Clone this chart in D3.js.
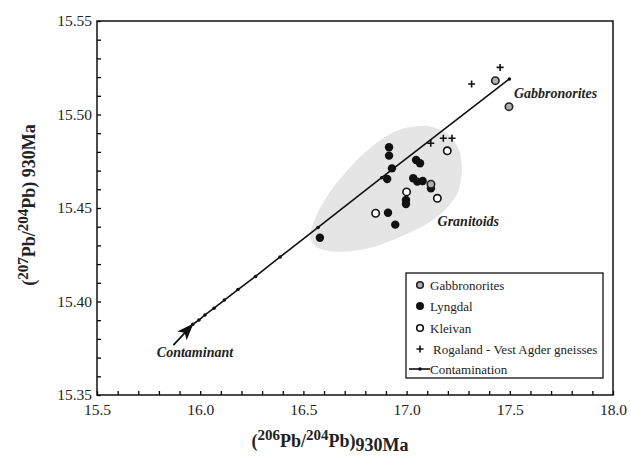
<!DOCTYPE html>
<html>
<head>
<meta charset="utf-8">
<script src="https://d3js.org/d3.v7.min.js"></script>
<style>
  body { margin: 0; background: #fff; }
  svg { font-family: "Liberation Serif", "Times New Roman", serif; }
</style>
</head>
<body>
<div id="chart"></div>
<script>
// data (206Pb/204Pb , 207Pb/204Pb at 930 Ma)
var gabbroX = [17.118, 17.430, 17.496];
var gabbroY = [15.4627, 15.5181, 15.5042];

var lyngdalX = [16.915, 16.915, 16.929, 16.906, 16.910, 16.945, 16.580, 17.046, 17.065, 17.032, 17.052, 17.078, 17.118, 16.997, 16.997];
var lyngdalY = [15.4825, 15.4780, 15.4712, 15.4655, 15.4475, 15.4411, 15.4341, 15.4757, 15.4739, 15.4659, 15.4641, 15.4644, 15.4605, 15.4543, 15.4521];

var kleivanX = [16.850, 17.000, 17.149, 17.197];
var kleivanY = [15.4472, 15.4586, 15.4552, 15.4806];

var rogalandX = [17.453, 17.315, 17.117, 17.178, 17.220];
var rogalandY = [15.5252, 15.5163, 15.4846, 15.4873, 15.4873];

// contamination (mixing) curve with its step marks
var mixX = [15.964, 15.994, 16.023, 16.067, 16.117, 16.183, 16.268, 16.387, 16.571, 16.879, 17.498];
var mixY = [15.3878, 15.3901, 15.3928, 15.3964, 15.4008, 15.4064, 15.4134, 15.4238, 15.4396, 15.4662, 15.5190];

// granitoid field outline
var fieldX = [16.532, 16.571, 16.677, 16.823, 16.968, 17.089, 17.186, 17.249, 17.268, 17.254, 17.201, 17.104, 16.992, 16.895, 16.774, 16.653, 16.571];
var fieldY = [15.4350, 15.4286, 15.4265, 15.4286, 15.4345, 15.4409, 15.4489, 15.4586, 15.4703, 15.4810, 15.4896, 15.4939, 15.4928, 15.4880, 15.4773, 15.4623, 15.4479];

var xTickLabels = [15.5, 16.0, 16.5, 17.0, 17.5, 18.0];
var yTickLabels = [15.35, 15.40, 15.45, 15.50, 15.55];

var legendNames = ["Gabbronorites", "Lyngdal", "Kleivan", "Rogaland - Vest Agder gneisses", "Contamination"];

var width = 631, height = 465;
var margin = {top: 21, right: 18, bottom: 70, left: 97};

var svg = d3.select("#chart").append("svg")
    .attr("width", width)
    .attr("height", height);

var x = d3.scaleLinear().domain([15.5, 18.0]).range([margin.left, width - margin.right]);
var y = d3.scaleLinear().domain([15.35, 15.55]).range([height - margin.bottom, margin.top]);

function zip(xs, ys) { return xs.map(function(d, i) { return [d, ys[i]]; }); }

// granitoid field
svg.append("path")
    .datum(zip(fieldX, fieldY))
    .attr("d", d3.line().x(function(d) { return x(d[0]); }).y(function(d) { return y(d[1]); }).curve(d3.curveCardinalClosed.tension(0.2)))
    .attr("fill", "#e5e5e5")
    .attr("stroke", "none");

// minor ticks (inward)
svg.append("g")
    .attr("transform", "translate(0," + y.range()[0] + ")")
    .call(d3.axisBottom(x).tickValues(x.ticks(25)).tickSizeInner(-4).tickSizeOuter(0).tickFormat(""))
    .call(function(g) { g.select(".domain").remove(); g.selectAll("line").attr("stroke-width", 1.3); });

svg.append("g")
    .attr("transform", "translate(" + x.range()[0] + ",0)")
    .call(d3.axisLeft(y).tickValues(y.ticks(20)).tickSizeInner(-4).tickSizeOuter(0).tickFormat(""))
    .call(function(g) { g.select(".domain").remove(); g.selectAll("line").attr("stroke-width", 1.3); });

// tick labels
svg.append("g")
    .attr("transform", "translate(0," + y.range()[0] + ")")
    .call(d3.axisBottom(x).tickValues(xTickLabels).tickSize(0).tickPadding(9).tickFormat(d3.format(".1f")))
    .call(function(g) {
      g.select(".domain").remove();
      g.selectAll("text").attr("font-size", 15.5).attr("fill", "#222").style("font-family", "Liberation Serif");
    });

svg.append("g")
    .attr("transform", "translate(" + x.range()[0] + ",0)")
    .call(d3.axisLeft(y).tickValues(yTickLabels).tickSize(0).tickPadding(5).tickFormat(d3.format(".2f")))
    .call(function(g) {
      g.select(".domain").remove();
      g.selectAll("text").attr("font-size", 15.5).attr("fill", "#222").style("font-family", "Liberation Serif");
    });

// frame
svg.append("rect")
    .attr("x", x.range()[0]).attr("y", y.range()[1])
    .attr("width", x.range()[1] - x.range()[0])
    .attr("height", y.range()[0] - y.range()[1])
    .attr("fill", "none").attr("stroke", "#111").attr("stroke-width", 1.5);

// contamination line
var mix = zip(mixX, mixY);
svg.append("path")
    .datum(mix)
    .attr("d", d3.line().x(function(d) { return x(d[0]); }).y(function(d) { return y(d[1]); }))
    .attr("fill", "none").attr("stroke", "#111").attr("stroke-width", 1.6);
svg.selectAll(".mixdot").data(mix).enter().append("circle")
    .attr("cx", function(d) { return x(d[0]); })
    .attr("cy", function(d) { return y(d[1]); })
    .attr("r", 1.8).attr("fill", "#111");

// arrow to contaminant end
svg.append("defs").append("marker")
    .attr("id", "arr").attr("viewBox", "0 0 16 12")
    .attr("refX", 15).attr("refY", 6)
    .attr("markerWidth", 17).attr("markerHeight", 13)
    .attr("markerUnits", "userSpaceOnUse")
    .attr("orient", "auto")
  .append("path").attr("d", "M0,0 L16,6 L0,12 L4,6 Z").attr("fill", "#111");
svg.append("line")
    .attr("x1", x(15.870)).attr("y1", y(15.3767))
    .attr("x2", x(mixX[0])).attr("y2", y(mixY[0]))
    .attr("stroke", "#111").attr("stroke-width", 1.8)
    .attr("marker-end", "url(#arr)");

// points
svg.selectAll(".lyn").data(zip(lyngdalX, lyngdalY)).enter().append("circle")
    .attr("cx", function(d) { return x(d[0]); })
    .attr("cy", function(d) { return y(d[1]); })
    .attr("r", 4.2).attr("fill", "#111");

svg.selectAll(".kle").data(zip(kleivanX, kleivanY)).enter().append("circle")
    .attr("cx", function(d) { return x(d[0]); })
    .attr("cy", function(d) { return y(d[1]); })
    .attr("r", 3.7).attr("fill", "#fff").attr("stroke", "#111").attr("stroke-width", 1.6);

svg.selectAll(".gab").data(zip(gabbroX, gabbroY)).enter().append("circle")
    .attr("cx", function(d) { return x(d[0]); })
    .attr("cy", function(d) { return y(d[1]); })
    .attr("r", 3.7).attr("fill", "#b0b0b0").attr("stroke", "#222").attr("stroke-width", 1.6);

svg.selectAll(".rog").data(zip(rogalandX, rogalandY)).enter().append("path")
    .attr("transform", function(d) { return "translate(" + x(d[0]) + "," + y(d[1]) + ")"; })
    .attr("d", "M-3.5,0 H3.5 M0,-3.5 V3.5")
    .attr("stroke", "#111").attr("stroke-width", 1.6);

// annotations
function note(txt, vx, vy) {
  svg.append("text").attr("x", x(vx)).attr("y", y(vy))
    .attr("font-size", 14).attr("font-weight", "bold").attr("font-style", "italic")
    .attr("fill", "#222").text(txt);
}
note("Gabbronorites", 17.52, 15.509);
note("Granitoids", 17.150, 15.4405);
note("Contaminant", 15.79, 15.3705);

// legend
var lg = svg.append("g").attr("transform", "translate(406,273)");
lg.append("rect").attr("width", 197).attr("height", 105)
    .attr("fill", "#fff").attr("stroke", "#111").attr("stroke-width", 1.3);
var rowY = [12, 33, 55, 76, 96];
legendNames.forEach(function(name, i) {
  var cy = rowY[i];
  if (i === 0) lg.append("circle").attr("cx", 14).attr("cy", cy).attr("r", 3.3).attr("fill", "#b0b0b0").attr("stroke", "#222").attr("stroke-width", 1.6);
  if (i === 1) lg.append("circle").attr("cx", 14).attr("cy", cy).attr("r", 4).attr("fill", "#111");
  if (i === 2) lg.append("circle").attr("cx", 14).attr("cy", cy).attr("r", 3.3).attr("fill", "#fff").attr("stroke", "#111").attr("stroke-width", 1.6);
  if (i === 3) lg.append("path").attr("transform", "translate(14," + cy + ")").attr("d", "M-3.5,0 H3.5 M0,-3.5 V3.5").attr("stroke", "#111").attr("stroke-width", 1.6);
  if (i === 4) {
    lg.append("line").attr("x1", 3).attr("x2", 24).attr("y1", cy).attr("y2", cy).attr("stroke", "#111").attr("stroke-width", 1.6);
    lg.append("circle").attr("cx", 14).attr("cy", cy).attr("r", 1.8).attr("fill", "#111");
  }
  lg.append("text").attr("x", i === 3 ? 27 : 24).attr("y", cy + 4.5)
    .attr("font-size", 13).attr("fill", "#222").text(name);
});

// axis titles
var xt = svg.append("text").attr("text-anchor", "middle")
    .attr("x", 330).attr("y", 447)
    .attr("font-size", 18).attr("font-weight", "bold").attr("fill", "#222");
xt.append("tspan").text("(");
xt.append("tspan").attr("dy", -7).attr("font-size", 15).text("206");
xt.append("tspan").attr("dy", 7).text("Pb/");
xt.append("tspan").attr("dy", -7).attr("font-size", 15).text("204");
xt.append("tspan").attr("dy", 7).text("Pb)");
xt.append("tspan").attr("dy", 4).text("930Ma");

var yt = svg.append("text").attr("text-anchor", "middle")
    .attr("transform", "translate(35,205) rotate(-90)")
    .attr("font-size", 18).attr("font-weight", "bold").attr("fill", "#222");
yt.append("tspan").text("(");
yt.append("tspan").attr("dy", -7).attr("font-size", 15).text("207");
yt.append("tspan").attr("dy", 7).text("Pb/");
yt.append("tspan").attr("dy", -7).attr("font-size", 15).text("204");
yt.append("tspan").attr("dy", 7).text("Pb) 930Ma");
</script>
</body>
</html>
